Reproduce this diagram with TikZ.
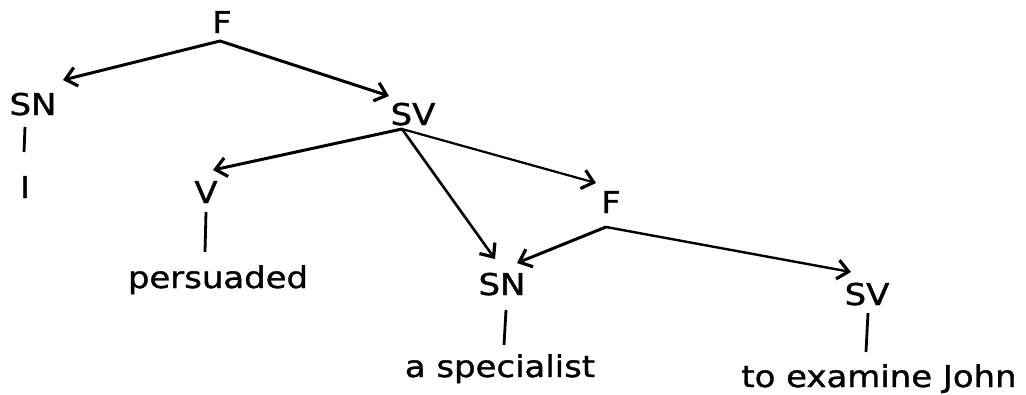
\documentclass[tikz,border=0pt]{standalone}
\usepackage{fontspec}
\setmainfont{DejaVu Sans}[FakeStretch=1.13, FakeBold=1.2]
\usetikzlibrary{arrows.meta}
\begin{document}
\begin{tikzpicture}[x=1pt,y=-1pt,
  lbl/.style={font=\fontsize{30}{30}\selectfont, inner sep=0pt, anchor=base},
  edge/.style={line width=3pt, line cap=round,
    -{Straight Barb[length=11pt,width=19pt,line width=3.2pt]}},
  stem/.style={line width=2.8pt}]
\useasboundingbox (0,0) rectangle (1026,394);

% category labels and words
\node[lbl] (F1)  at (222,33)  {F};
\node[lbl] (SN1) at (33,115)  {SN};
\node[lbl] (I)   at (25,198)  {I};
\node[lbl] (SV1) at (413,125) {SV};
\node[lbl] (V)   at (206,203) {V};
\node[lbl] (pers) at (218,288) {persuaded};
\node[lbl] (F2)  at (611,213) {F};
\node[lbl] (SN2) at (502,295) {SN};
\node[lbl] (spec) at (500,377) {a specialist};
\node[lbl] (SV2) at (867,305) {SV};
\node[lbl] (john) at (879,387) {to examine John};

% attachment points of the branches
\coordinate (F1-out)  at (220,41);
\coordinate (SN1-in)  at (63,80);
\coordinate (SV1-in)  at (389,96);
\coordinate (SV1-out) at (402,129);
\coordinate (V-in)    at (213,170);
\coordinate (SN2-inL) at (495,259);
\coordinate (F2-in)   at (596,183);
\coordinate (F2-out)  at (606,227);
\coordinate (SN2-inR) at (517,263);
\coordinate (SV2-in)  at (851,272);

\coordinate (SN1-a) at (25,127);  \coordinate (SN1-b) at (24,152);
\coordinate (V-a)   at (206,212); \coordinate (V-b)   at (205,252);
\coordinate (SN2-a) at (506,310); \coordinate (SN2-b) at (504,345);
\coordinate (SV2-a) at (868,313); \coordinate (SV2-b) at (866,352);

% branches
\draw[edge] (F1-out) -- (SN1-in);
\draw[edge] (F1-out) -- (SV1-in);
\draw[edge] (SV1-out) -- (V-in);
\draw[edge, line width=2.6pt] (SV1-out) -- (SN2-inL);
\draw[edge, line width=2.2pt] (SV1-out) -- (F2-in);
\draw[edge] (F2-out) -- (SN2-inR);
\draw[edge, line width=2.4pt] (F2-out) -- (SV2-in);

% lexical stems
\draw[stem] (SN1-a) -- (SN1-b);
\draw[stem] (V-a) -- (V-b);
\draw[stem] (SN2-a) -- (SN2-b);
\draw[stem] (SV2-a) -- (SV2-b);
\end{tikzpicture}
\end{document}
